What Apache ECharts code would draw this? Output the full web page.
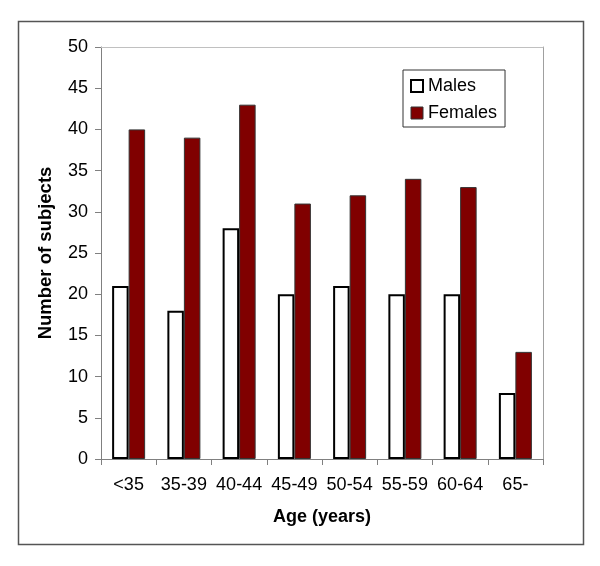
<!DOCTYPE html>
<html>
<head>
<meta charset="utf-8">
<script src="https://cdn.jsdelivr.net/npm/echarts@6/dist/echarts.min.js"></script>
<style>html,body{margin:0;padding:0;background:#fff;}#c{width:600px;height:566px;}</style>
</head>
<body>
<div id="c"></div>
<script>
const categories = ['<35', '35-39', '40-44', '45-49', '50-54', '55-59', '60-64', '65-'];
const males = [21, 18, 28, 20, 21, 20, 20, 8];
const females = [40, 39, 43, 31, 32, 34, 33, 13];
const yMin = 0, yMax = 50, yStep = 5;

const FONT = '"Liberation Sans", Arial, sans-serif';
const chart = echarts.init(document.getElementById('c'), null, {renderer: 'canvas'});
chart.setOption({
  animation: false,
  backgroundColor: '#fff',
  textStyle: {fontFamily: FONT, color: '#000'},
  graphic: [{
    type: 'rect', shape: {x: 18.5, y: 21.5, width: 565, height: 523},
    style: {fill: 'none', stroke: '#555', lineWidth: 1.5}, silent: true, z: -1
  }],
  grid: {left: 101, right: 57, top: 47, bottom: 107, containLabel: false},
  legend: {
    orient: 'vertical', left: 403, top: 70,
    padding: [7, 8, 5, 7], itemGap: 9,
    itemWidth: 12, itemHeight: 12, icon: 'rect',
    borderColor: '#333', borderWidth: 1,
    textStyle: {fontSize: 18, fontFamily: FONT, color: '#000'},
    data: [
      {name: 'Males', itemStyle: {color: '#fff', borderColor: '#000', borderWidth: 2}},
      {name: 'Females', itemStyle: {color: '#800000', borderColor: '#333', borderWidth: 1}}
    ]
  },
  xAxis: [{
    type: 'category', data: categories, position: 'bottom',
    axisLine: {onZero: false, lineStyle: {color: '#808080', width: 1}},
    axisTick: {show: true, length: 6, inside: false, lineStyle: {color: '#808080'}},
    axisLabel: {fontSize: 18, color: '#000', margin: 17, fontFamily: FONT, interval: 0},
    name: 'Age (years)', nameLocation: 'middle', nameGap: 49,
    nameTextStyle: {fontSize: 18, fontWeight: 'bold', color: '#000', fontFamily: FONT}
  }, {
    type: 'category', data: categories, position: 'top',
    axisLine: {show: true, onZero: false, lineStyle: {color: '#c0c0c0', width: 1}},
    axisTick: {show: false}, axisLabel: {show: false}
  }],
  yAxis: [{
    type: 'value', min: yMin, max: yMax, interval: yStep,
    axisLine: {show: true, onZero: false, lineStyle: {color: '#808080', width: 1}},
    axisTick: {show: true, length: 6, lineStyle: {color: '#808080'}},
    axisLabel: {fontSize: 18, color: '#000', margin: 13, fontFamily: FONT},
    splitLine: {show: false},
    name: 'Number of subjects', nameLocation: 'middle', nameGap: 46,
    nameTextStyle: {fontSize: 18.5, fontWeight: 'bold', color: '#000', fontFamily: FONT}
  }, {
    type: 'value', min: yMin, max: yMax, interval: yStep, position: 'right',
    axisLine: {show: true, onZero: false, lineStyle: {color: '#a0a0a0', width: 1}},
    axisTick: {show: false}, axisLabel: {show: false}, splitLine: {show: false}
  }],
  series: [{
    name: 'Males', type: 'bar', data: males, barWidth: 16.5, barGap: '0%',
    itemStyle: {color: '#fff', borderColor: '#000', borderWidth: 2}
  }, {
    name: 'Females', type: 'bar', data: females, barWidth: 16.5, barGap: '0%',
    itemStyle: {color: '#800000', borderColor: '#333', borderWidth: 1}
  }]
});
</script>
</body>
</html>
